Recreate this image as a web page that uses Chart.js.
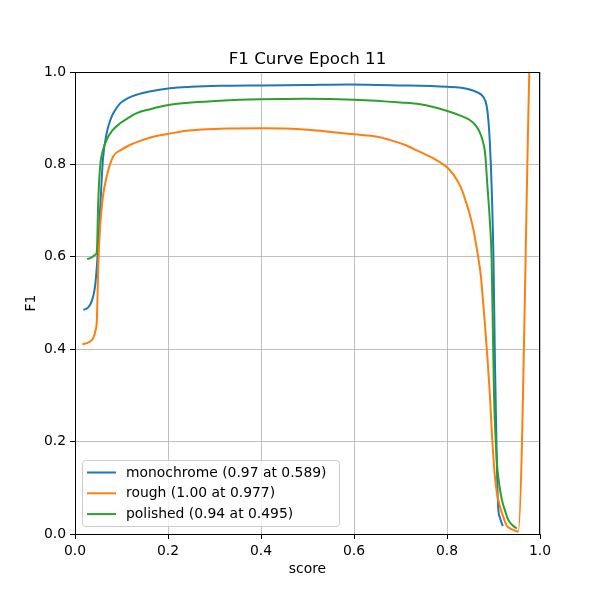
<!DOCTYPE html>
<html>
<head>
<meta charset="utf-8">
<script src="https://cdn.jsdelivr.net/npm/chart.js@4.4.1/dist/chart.umd.min.js"></script>
<style>
html,body{margin:0;padding:0;background:#fff;}
canvas{display:block;}
</style>
</head>
<body>
<canvas id="c" width="600" height="600"></canvas>
<script>
const titleText = "F1 Curve Epoch 11";
const xLabel = "score";
const yLabel = "F1";
const seriesNames = ["monochrome (0.97 at 0.589)", "rough (1.00 at 0.977)", "polished (0.94 at 0.495)"];
const seriesColors = ["#1f77b4", "#ff7f0e", "#2ca02c"];
const tickValues = [0, 0.2, 0.4, 0.6, 0.8, 1.0];

const monoX = [0.018, 0.028, 0.036, 0.043, 0.048, 0.054, 0.060, 0.068, 0.075, 0.082, 0.097, 0.115, 0.133, 0.16, 0.204, 0.25, 0.312, 0.4, 0.5, 0.589, 0.7, 0.8, 0.83, 0.849, 0.865, 0.878, 0.885, 0.889, 0.892, 0.896, 0.900, 0.903, 0.907, 0.910, 0.914, 0.920];
const monoY = [0.485, 0.49, 0.504, 0.535, 0.593, 0.701, 0.81, 0.867, 0.893, 0.91, 0.932, 0.944, 0.951, 0.958, 0.965, 0.968, 0.970, 0.971, 0.972, 0.973, 0.971, 0.968, 0.966, 0.962, 0.956, 0.946, 0.928, 0.896, 0.85, 0.752, 0.593, 0.377, 0.16, 0.059, 0.035, 0.017];

const roughX = [0.016, 0.03, 0.039, 0.044, 0.047, 0.050, 0.054, 0.060, 0.068, 0.082, 0.10, 0.118, 0.14, 0.168, 0.2, 0.24, 0.312, 0.4, 0.5, 0.6, 0.65, 0.677, 0.71, 0.742, 0.771, 0.803, 0.824, 0.833, 0.842, 0.850, 0.857, 0.862, 0.867, 0.873, 0.877, 0.882, 0.887, 0.892, 0.897, 0.903, 0.908, 0.914, 0.92, 0.928, 0.94, 0.953, 0.977];
const roughY = [0.411, 0.415, 0.424, 0.44, 0.463, 0.58, 0.665, 0.73, 0.773, 0.817, 0.832, 0.842, 0.851, 0.86, 0.866, 0.873, 0.877, 0.878, 0.875, 0.865, 0.86, 0.853, 0.842, 0.827, 0.813, 0.791, 0.762, 0.742, 0.715, 0.688, 0.658, 0.63, 0.60, 0.557, 0.51, 0.449, 0.38, 0.305, 0.21, 0.124, 0.085, 0.059, 0.04, 0.019, 0.01, 0.005, 1.0];

const polX = [0.026, 0.035, 0.043, 0.047, 0.050, 0.054, 0.060, 0.068, 0.080, 0.097, 0.115, 0.133, 0.16, 0.204, 0.25, 0.312, 0.4, 0.495, 0.6, 0.7, 0.742, 0.799, 0.83, 0.849, 0.862, 0.871, 0.877, 0.882, 0.887, 0.892, 0.896, 0.901, 0.907, 0.912, 0.918, 0.925, 0.932, 0.942, 0.950];
const polY = [0.595, 0.598, 0.604, 0.611, 0.72, 0.795, 0.83, 0.853, 0.873, 0.889, 0.901, 0.911, 0.919, 0.929, 0.934, 0.938, 0.941, 0.942, 0.940, 0.934, 0.930, 0.916, 0.905, 0.896, 0.884, 0.868, 0.85, 0.824, 0.752, 0.68, 0.593, 0.305, 0.16, 0.11, 0.074, 0.05, 0.03, 0.018, 0.012];

const seriesX = [monoX, roughX, polX];
const seriesY = [monoY, roughY, polY];

const FONT = "DejaVu Sans";

const datasets = seriesNames.map((name, i) => ({
  label: name,
  data: seriesX[i].map((x, j) => ({x: x, y: seriesY[i][j]})),
  borderColor: seriesColors[i],
  backgroundColor: seriesColors[i],
  borderWidth: 2,
  pointRadius: 0,
  fill: false,
  tension: 0,
  cubicInterpolationMode: 'monotone',
  order: 3 - i
}));

const decor = {
  id: 'decor',
  afterDraw(chart) {
    const ctx = chart.ctx;
    const a = chart.chartArea;
    ctx.save();
    ctx.strokeStyle = '#000';
    ctx.lineWidth = 1;
    ctx.beginPath();
    ctx.moveTo(a.left, a.top + 0.5);
    ctx.lineTo(a.right, a.top + 0.5);
    ctx.moveTo(a.right - 0.5, a.top);
    ctx.lineTo(a.right - 0.5, a.bottom);
    ctx.stroke();
    ctx.fillStyle = '#000';
    ctx.font = '16.7px "' + FONT + '"';
    ctx.textAlign = 'center';
    ctx.textBaseline = 'alphabetic';
    ctx.fillText(titleText, (a.left + a.right) / 2, 64);
    ctx.font = '13.9px "' + FONT + '"';
    ctx.textBaseline = 'middle';
    ctx.fillText(xLabel, (a.left + a.right) / 2, 569);
    ctx.save();
    ctx.translate(31, (a.top + a.bottom) / 2);
    ctx.rotate(-Math.PI / 2);
    ctx.fillText(yLabel, 0, 0);
    ctx.restore();
    const bx = 82.5, by = 460.5, bw = 257, bh = 66, r = 3;
    ctx.beginPath();
    ctx.moveTo(bx + r, by);
    ctx.lineTo(bx + bw - r, by);
    ctx.arcTo(bx + bw, by, bx + bw, by + r, r);
    ctx.lineTo(bx + bw, by + bh - r);
    ctx.arcTo(bx + bw, by + bh, bx + bw - r, by + bh, r);
    ctx.lineTo(bx + r, by + bh);
    ctx.arcTo(bx, by + bh, bx, by + bh - r, r);
    ctx.lineTo(bx, by + r);
    ctx.arcTo(bx, by, bx + r, by, r);
    ctx.closePath();
    ctx.fillStyle = 'rgba(255,255,255,0.8)';
    ctx.fill();
    ctx.strokeStyle = '#cccccc';
    ctx.lineWidth = 1;
    ctx.stroke();
    ctx.textAlign = 'left';
    ctx.textBaseline = 'middle';
    ctx.font = '13.9px "' + FONT + '"';
    seriesNames.forEach((name, i) => {
      const y = 472.5 + i * 20.8;
      ctx.strokeStyle = seriesColors[i];
      ctx.lineWidth = 2;
      ctx.beginPath();
      ctx.moveTo(87, y);
      ctx.lineTo(116, y);
      ctx.stroke();
      ctx.fillStyle = '#000';
      ctx.fillText(name, 126, y + 0.5);
    });
    ctx.restore();
  }
};

const axisCommon = {
  type: 'linear',
  min: 0,
  max: 1,
  afterBuildTicks(scale) {
    scale.ticks = tickValues.map(v => ({value: v}));
  },
  ticks: {
    callback: v => Number(v).toFixed(1),
    color: '#000',
    font: {family: FONT, size: 13.9},
    padding: 4,
    maxRotation: 0,
    autoSkip: false
  },
  grid: {
    color: '#b0b0b0',
    lineWidth: 0.8,
    tickColor: '#000',
    tickLength: 5,
    tickWidth: 1,
    drawOnChartArea: true
  },
  border: {display: true, color: '#000', width: 1},
  title: {display: false}
};

new Chart(document.getElementById('c'), {
  type: 'line',
  data: {datasets: datasets},
  options: {
    responsive: false,
    devicePixelRatio: 1,
    animation: false,
    layout: {padding: {top: 72, right: 60, left: 0, bottom: 0}},
    plugins: {legend: {display: false}, title: {display: false}, tooltip: {enabled: false}},
    scales: {
      x: Object.assign({}, axisCommon, {
        position: 'bottom',
        afterFit(scale) { scale.height = 66; }
      }),
      y: Object.assign({}, axisCommon, {
        position: 'left',
        afterFit(scale) { scale.width = 75; }
      })
    }
  },
  plugins: [decor]
});
</script>
</body>
</html>
